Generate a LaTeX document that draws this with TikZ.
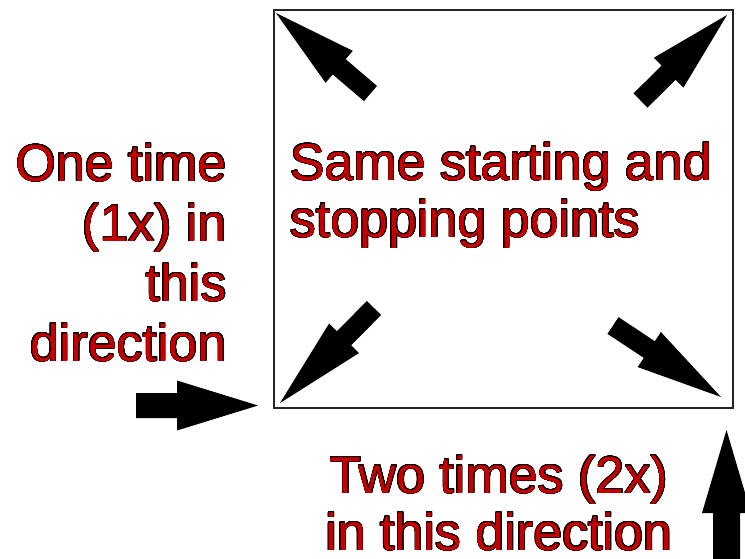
\documentclass[tikz,border=0pt]{standalone}
\usepackage{fontspec}
\setmainfont{Liberation Sans}
\usepackage{contour}
\contourlength{0.6pt}
\contournumber{24}
\usetikzlibrary{calc}
\definecolor{tred}{RGB}{196,0,0}
\newcommand{\ol}[1]{\contour{black}{#1}}
% #1 tail, #2 tip, #3 head length, #4 head half-width, #5 shaft half-width
\newcommand{\fatarrow}[5]{%
  \coordinate (AT) at #1;
  \coordinate (AP) at #2;
  \coordinate (AB) at ($(AP)!#3!(AT)$);
  \fill[black] ($(AT)!#5!90:(AP)$) -- ($(AB)!#5!90:(AP)$) -- ($(AB)!#4!90:(AP)$)
    -- (AP) -- ($(AB)!#4!-90:(AP)$) -- ($(AB)!#5!-90:(AP)$) -- ($(AT)!#5!-90:(AP)$) -- cycle;
}
\tikzset{
  lbl/.style={inner sep=0pt, text=tred, font=\fontsize{52}{60}\selectfont},
}
\begin{document}
\begin{tikzpicture}[x=1pt,y=-1pt]
\useasboundingbox (0,0) rectangle (745,558);
\fill[white] (0,0) rectangle (745,558);
% box
\coordinate (bl) at (274,408);
\coordinate (tr) at (733,10);
\draw[line width=1.5pt, black!85] (bl) rectangle (tr);
% diagonal arrows
\fatarrow{(370.5,93.5)}{(276,13)}{83pt}{21pt}{10pt}
\fatarrow{(640.5,100.5)}{(727,15)}{82pt}{21pt}{10pt}
\fatarrow{(374,308)}{(280,403)}{91pt}{21pt}{10pt}
\fatarrow{(613,325.5)}{(721,397)}{86pt}{21pt}{10pt}
% left arrow
\fatarrow{(136,405.5)}{(258,405.5)}{81pt}{25pt}{12.5pt}
% up arrow
\fatarrow{(726.5,570)}{(726.5,430)}{83pt}{24.5pt}{13.5pt}
% texts (base anchor = baseline of last line)
\node[lbl, anchor=base east, align=right] (one) at (227,361)
  {\ol{One time}\\\ol{(1x) in}\\\ol{this}\\\ol{direction}};
\node[lbl, anchor=base west, align=left, font=\fontsize{52}{57}\selectfont] (same) at (290,237)
  {\ol{Same starting and}\\\ol{stopping points}};
\node[lbl, anchor=base, align=center, font=\fontsize{52}{57}\selectfont] (two) at (499,550)
  {\ol{Two times (2x)}\\\ol{in this direction}};
\end{tikzpicture}
\end{document}
